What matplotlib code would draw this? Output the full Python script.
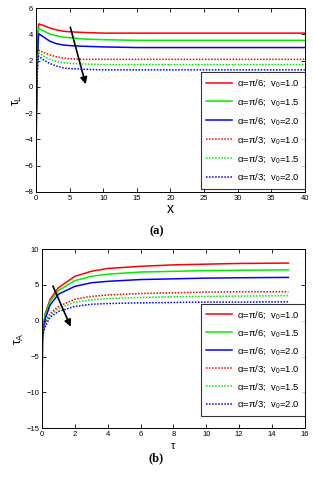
import numpy as np
import matplotlib
matplotlib.use('Agg')
import matplotlib.pyplot as plt

plt.rcParams['font.family'] = ['Liberation Sans', 'DejaVu Sans']
plt.rcParams['mathtext.fontset'] = 'custom'
plt.rcParams['mathtext.rm'] = 'Liberation Sans'
plt.rcParams['mathtext.it'] = 'Liberation Sans'

## data

# (a) tau_L against x
x_a = [0, 0.1, 0.2, 0.3, 0.4, 1, 2, 3, 4, 5, 7, 10, 15, 40]
tl_red = [-3.0, 0.0, 2.5, 4.2, 4.8, 4.7, 4.5, 4.35, 4.25, 4.2, 4.15, 4.1, 4.1, 4.1]
tl_green = [-3.5, -0.5, 2.0, 3.8, 4.45, 4.3, 4.05, 3.9, 3.8, 3.75, 3.65, 3.6, 3.55, 3.55]
tl_blue = [-5.3, -1.5, 1.5, 3.4, 4.05, 3.85, 3.5, 3.3, 3.2, 3.15, 3.1, 3.05, 3.0, 3.0]
tl_red_d = [-2.8, 0.0, 1.8, 2.6, 2.8, 2.65, 2.45, 2.3, 2.2, 2.15, 2.1, 2.1, 2.1, 2.1]
tl_green_d = [-3.0, -0.5, 1.5, 2.4, 2.6, 2.4, 2.1, 1.95, 1.85, 1.8, 1.75, 1.7, 1.7, 1.7]
tl_blue_d = [-3.3, -1.0, 1.2, 2.2, 2.35, 2.1, 1.8, 1.6, 1.45, 1.4, 1.35, 1.3, 1.3, 1.3]

# (b) tau_A against tau
x_b = [0, 0.05, 0.2, 0.5, 1, 2, 3, 4, 6, 8, 10, 12, 15]
ta_red = [-4.0, -1.5, 1.0, 3.0, 4.6, 6.2, 6.9, 7.3, 7.6, 7.8, 7.9, 8.0, 8.05]
ta_green = [-4.0, -1.5, 0.8, 2.7, 4.2, 5.6, 6.2, 6.5, 6.8, 6.9, 7.0, 7.05, 7.1]
ta_blue = [-10.0, -2.0, 0.3, 2.2, 3.7, 4.8, 5.3, 5.5, 5.75, 5.85, 5.95, 6.0, 6.05]
ta_red_d = [-2.5, -1.5, -0.2, 1.0, 2.0, 3.0, 3.4, 3.6, 3.8, 3.9, 4.0, 4.05, 4.05]
ta_green_d = [-3.0, -1.8, -0.5, 0.8, 1.7, 2.6, 2.9, 3.1, 3.25, 3.35, 3.4, 3.45, 3.5]
ta_blue_d = [-3.0, -2.0, -0.8, 0.5, 1.3, 2.0, 2.3, 2.4, 2.5, 2.55, 2.6, 2.6, 2.65]

labels = [r'α=π/6;  v$_0$=1.0', r'α=π/6;  v$_0$=1.5', r'α=π/6;  v$_0$=2.0',
          r'α=π/3;  v$_0$=1.0', r'α=π/3;  v$_0$=1.5', r'α=π/3;  v$_0$=2.0']
colors = ['#ff0000', '#00ee00', '#0000ff', '#ff0000', '#00ee00', '#0000ff']
styles = ['-', '-', '-', (0, (1, 1)), (0, (1, 1)), (0, (1, 1))]

series_a = [tl_red, tl_green, tl_blue, tl_red_d, tl_green_d, tl_blue_d]
series_b = [ta_red, ta_green, ta_blue, ta_red_d, ta_green_d, ta_blue_d]

fig = plt.figure(figsize=(3.13, 4.8), dpi=100)
ax1 = fig.add_axes([0.115, 0.600, 0.859, 0.383])
ax2 = fig.add_axes([0.134, 0.108, 0.840, 0.373])


def style_axes(ax):
    ax.tick_params(direction='in', top=True, right=True, labelsize=5.5,
                   length=3, width=0.6, pad=2)
    for sp in ax.spines.values():
        sp.set_linewidth(0.7)


### (a)
for y, c, ls, lab in zip(series_a, colors, styles, labels):
    ax1.plot(x_a, y, color=c, linestyle=ls, linewidth=1.1, label=lab)
ax1.set_xlim(0, 40)
ax1.set_ylim(-8, 6)
ax1.set_xticks(range(0, 41, 5))
ax1.set_yticks(range(-8, 7, 2))
style_axes(ax1)
ax1.set_xlabel('x', fontsize=10, labelpad=0)
ax1.set_ylabel(r'$\tau_L$', fontsize=9, labelpad=0)
ax1.annotate('', xy=(7.5, 0.0), xytext=(5, 4.75),
             arrowprops=dict(arrowstyle='-|>', color='black', lw=1.2,
                             mutation_scale=10))
leg = ax1.legend(loc='lower right', bbox_to_anchor=(1.0, 0.016), fontsize=6.8,
                 frameon=True, fancybox=False, edgecolor='black',
                 handlelength=2.7, labelspacing=0.72, borderpad=0.6,
                 handletextpad=0.5, borderaxespad=0)
leg.get_frame().set_linewidth(0.8)
fig.text(0.5, 0.518, '(a)', ha='center', va='center', fontsize=9,
         fontweight='bold', family='Liberation Serif')

### (b)
for y, c, ls, lab in zip(series_b, colors, styles, labels):
    ax2.plot(x_b, y, color=c, linestyle=ls, linewidth=1.1, label=lab)
ax2.set_xlim(0, 16)
ax2.set_ylim(-15, 10)
ax2.set_xticks(range(0, 17, 2))
ax2.set_yticks(range(-15, 11, 5))
style_axes(ax2)
ax2.set_xlabel(r'$\tau$', fontsize=8, labelpad=2)
ax2.set_ylabel(r'$\tau_A$', fontsize=9, labelpad=0)
ax2.annotate('', xy=(1.82, -1.2), xytext=(0.6, 5.2),
             arrowprops=dict(arrowstyle='-|>', color='black', lw=1.2,
                             mutation_scale=10))
leg = ax2.legend(loc='lower right', bbox_to_anchor=(1.0, 0.067), fontsize=6.8,
                 frameon=True, fancybox=False, edgecolor='black',
                 handlelength=2.7, labelspacing=0.62, borderpad=0.6,
                 handletextpad=0.5, borderaxespad=0)
leg.get_frame().set_linewidth(0.8)
fig.text(0.5, 0.046, '(b)', ha='center', va='center', fontsize=9,
         fontweight='bold', family='Liberation Serif')

plt.savefig('out.png', dpi=100)
